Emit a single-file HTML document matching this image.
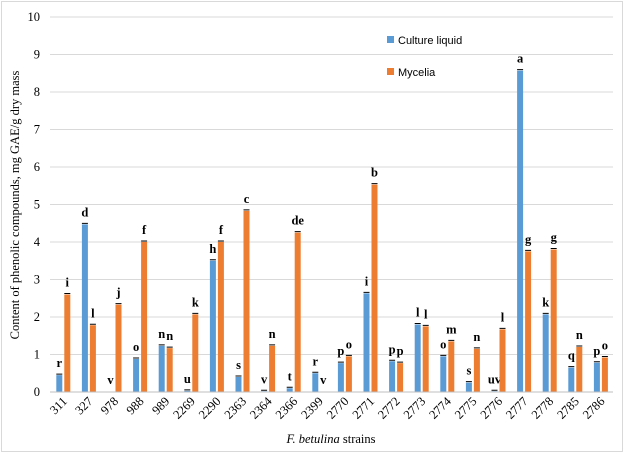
<!DOCTYPE html>
<html><head><meta charset="utf-8"><style>
body{margin:0;background:#fff}
svg text{font-family:"Liberation Serif",serif}
</style></head><body>
<svg id="s" width="624" height="453" xmlns="http://www.w3.org/2000/svg">
<rect x="1.5" y="1.5" width="621" height="450" fill="#fff" stroke="#d9d9d9"/>
</svg>
<script>
const s=document.getElementById('s');let h='';
const y0=392,k=37.5,x0=50,cw=25.6;
for(let i=0;i<=10;i++){const y=y0-i*k;h+=`<line x1="${x0}" x2="613" y1="${y}" y2="${y}" stroke="#d9d9d9"/>`;
h+=`<text x="40" y="${y+4}" font-size="12.5" text-anchor="end">${i}</text>`;}
const d=[["311",.45,2.6,"r","i"],["327",4.47,1.78,"d","l"],["978",0,2.33,"v","j"],["988",.88,4.0,"o","f"],["989",1.23,1.17,"n","n"],["2269",.03,2.07,"u","k"],["2290",3.5,4.0,"h","f"],["2363",.4,4.83,"s","c"],["2364",.02,1.23,"v","n"],["2366",.1,4.25,"t","de"],["2399",.5,0,"r","v"],["2770",.77,.95,"p","o"],["2771",2.63,5.53,"i","b"],["2772",.82,.77,"p","p"],["2773",1.8,1.75,"l","l"],["2774",.95,1.35,"o","m"],["2775",.25,1.15,"s","n"],["2776",.02,1.67,"uv","l"],["2777",8.57,3.75,"a","g"],["2778",2.07,3.8,"k","g"],["2785",.65,1.2,"q","n"],["2786",.78,.92,"p","o"]];
d.forEach((r,i)=>{const c=x0+cw*(i+.5);
[[r[1],c-6.5,'#5b9bd5',r[3]],[r[2],c+1.5,'#ed7d31',r[4]]].forEach(([v,x,col,l])=>{const y=y0-v*k;
h+=`<rect x="${x}" y="${y}" width="6" height="${v*k}" fill="${col}"/>`;
if(v>0.01)h+=`<line x1="${x}" x2="${x+6}" y1="${y-1}" y2="${y-1}" stroke="#000"/>`;
h+=`<text x="${x+3}" y="${y-8}" font-size="12.5" font-weight="bold" text-anchor="middle">${l}</text>`;});
h+=`<text transform="translate(${c+5},402) rotate(-45)" font-size="12.5" text-anchor="end">${r[0]}</text>`;});
h+=`<line x1="${x0}" x2="613" y1="${y0}" y2="${y0}" stroke="#bfbfbf"/>`;
h+=`<rect x="387" y="36" width="7" height="7" fill="#5b9bd5"/><text x="398" y="44" font-size="11" style="font-family:'Liberation Sans',sans-serif">Culture liquid</text>`;
h+=`<rect x="387" y="68" width="7" height="7" fill="#ed7d31"/><text x="398" y="76" font-size="11" style="font-family:'Liberation Sans',sans-serif">Mycelia</text>`;
h+=`<text transform="translate(19,205) rotate(-90)" font-size="12.5" text-anchor="middle">Content of phenolic compounds, mg GAE/g dry mass</text>`;
h+=`<text x="331" y="443" font-size="12.5" text-anchor="middle"><tspan font-style="italic">F. betulina</tspan> strains</text>`;
s.innerHTML+=h;
</script>
</body></html>
